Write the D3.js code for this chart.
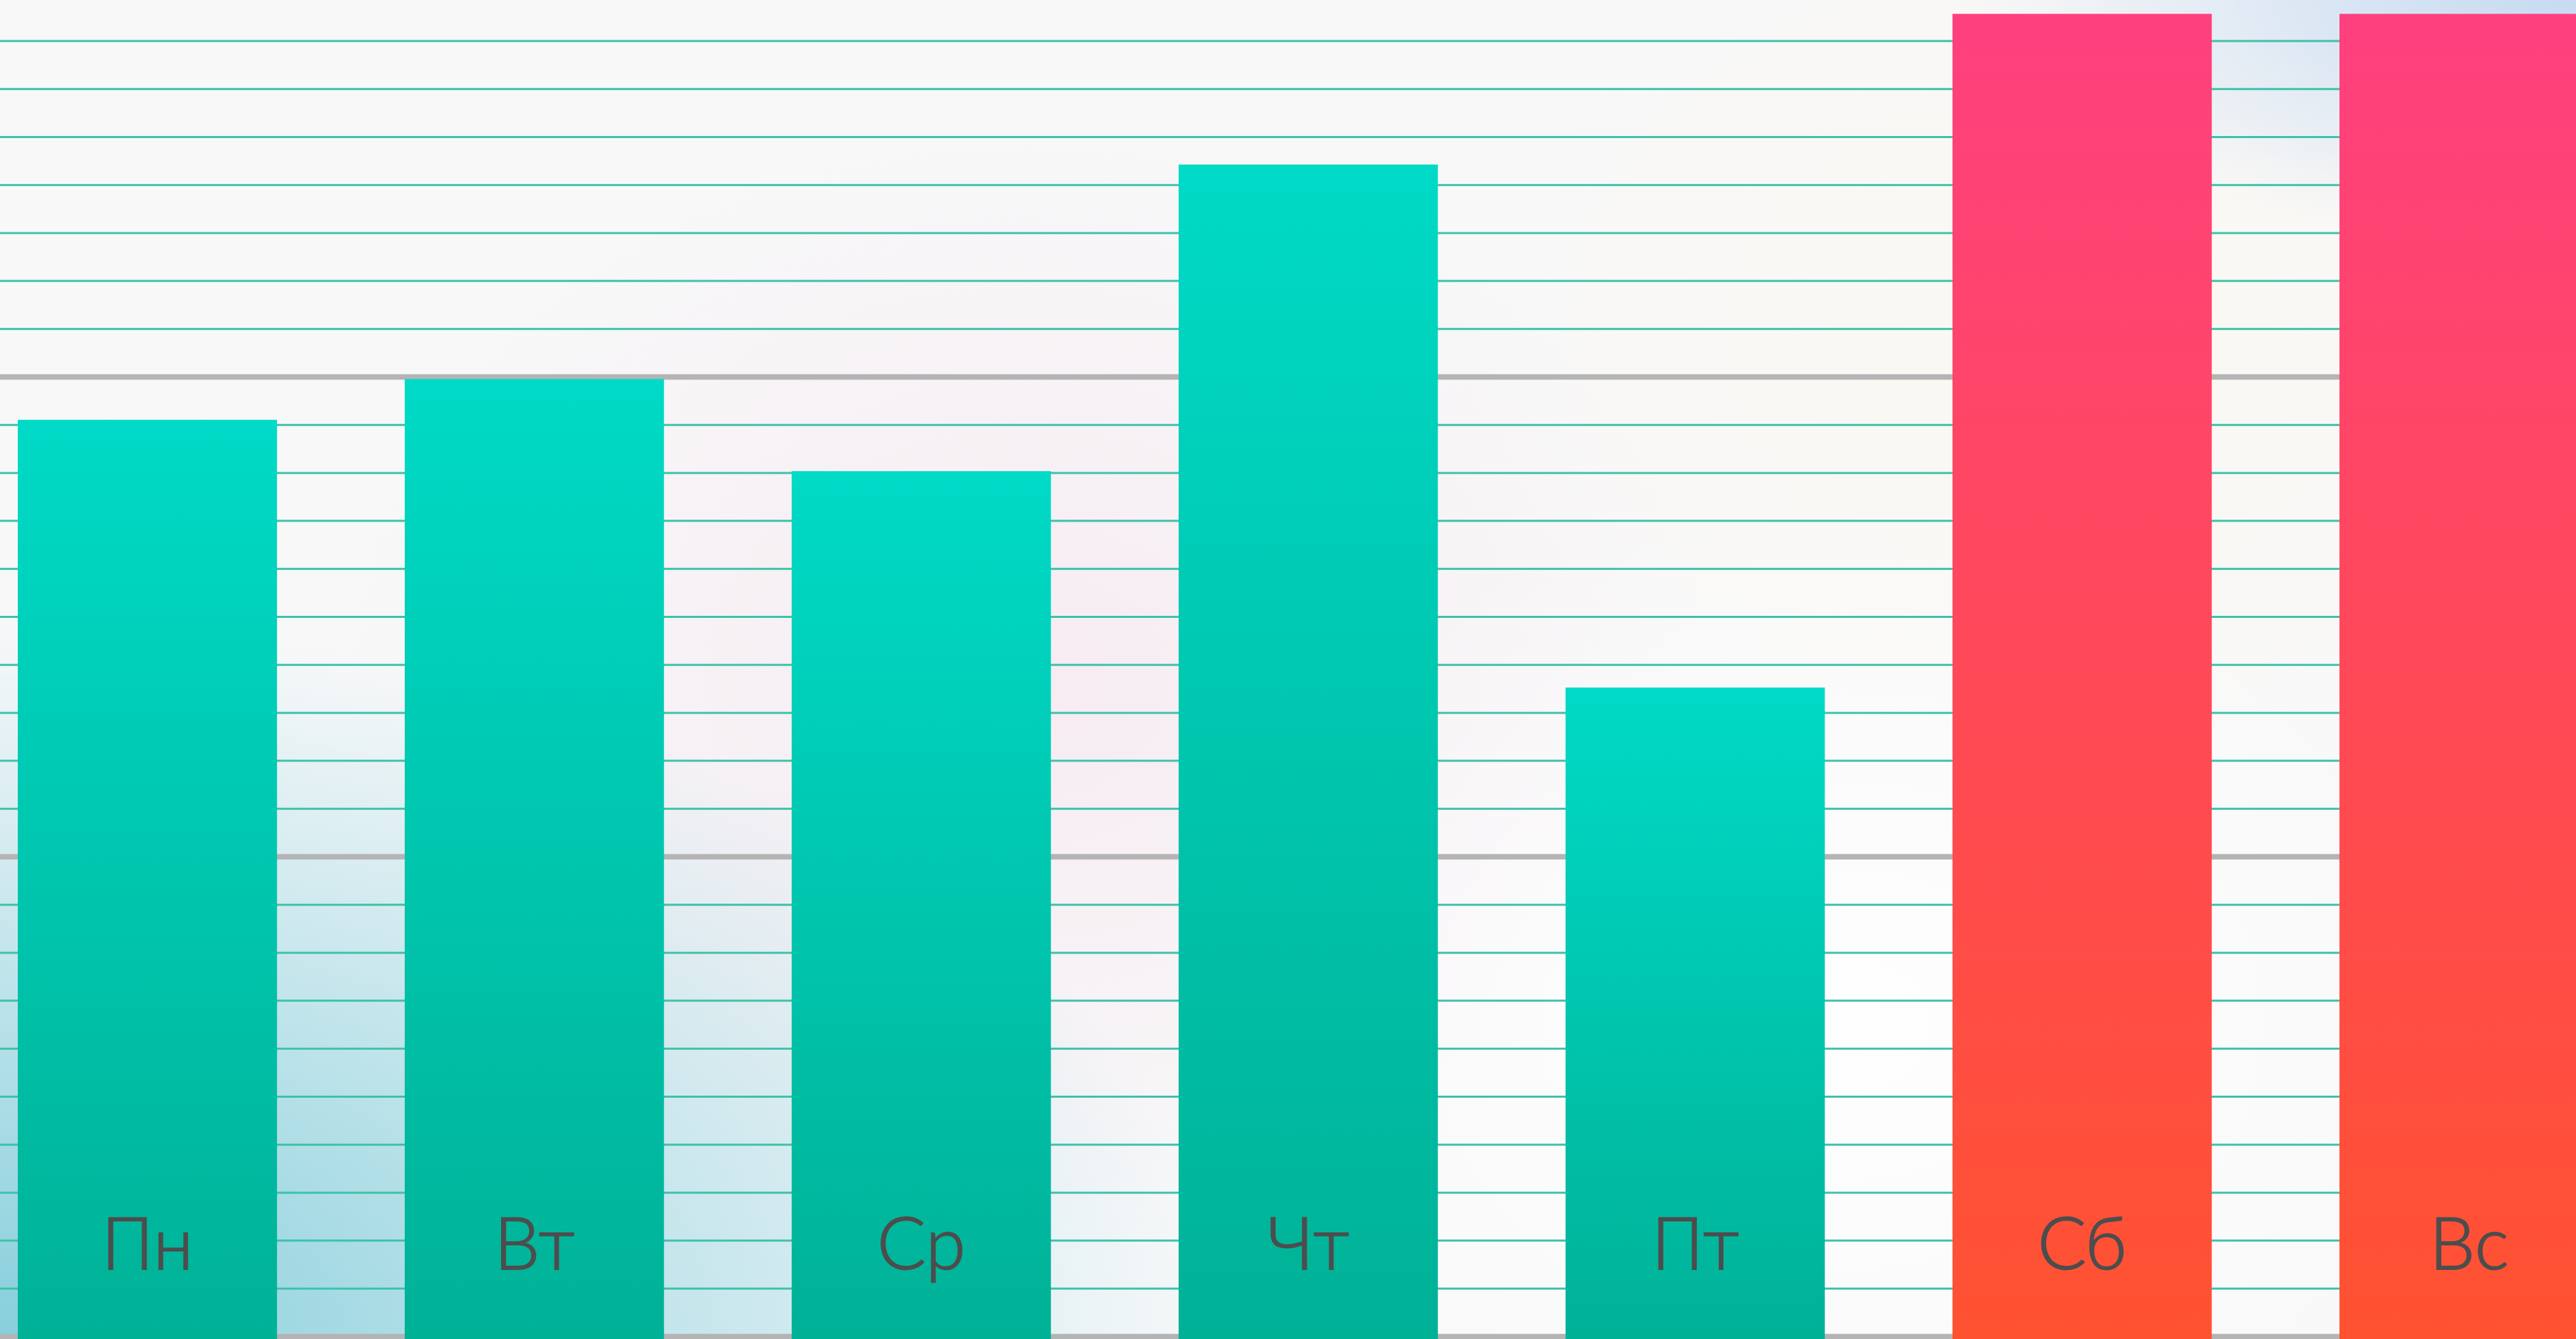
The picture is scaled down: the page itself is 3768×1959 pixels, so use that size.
<!DOCTYPE html>
<html>
<head>
<meta charset="utf-8">
<script src="https://cdn.jsdelivr.net/npm/d3@7"></script>
<style>
  html, body { margin: 0; padding: 0; overflow: hidden; background: #f8f8f9; }
  svg { display: block; }
</style>
</head>
<body>
<svg id="chart" width="3768" height="1959"></svg>
<script>
// ---- data ----
const days = ["Пн", "Вт", "Ср", "Чт", "Пт", "Сб", "Вс"];
const values = [19.1, 19.95, 18.03, 24.42, 13.52, 27.56, 27.56];
const dayType = ["weekday", "weekday", "weekday", "weekday", "weekday", "weekend", "weekend"];
const gridValues = d3.range(0, 29);   // minor grid every 1 unit
const majorEvery = 10;                // grey line every 10 units

// ---- layout ----
const W = 3768, H = 1959;
const svg = d3.select("#chart");
const defs = svg.append("defs");

// background gradients
function radial(id, cx, cy, rx, ry, color, op) {
  const g = defs.append("radialGradient").attr("id", id)
    .attr("gradientUnits", "userSpaceOnUse")
    .attr("cx", cx).attr("cy", cy).attr("r", rx)
    .attr("gradientTransform", `translate(${cx},${cy}) scale(1,${ry / rx}) translate(${-cx},${-cy})`);
  g.append("stop").attr("offset", 0).attr("stop-color", color).attr("stop-opacity", op);
  g.append("stop").attr("offset", 0.5).attr("stop-color", color).attr("stop-opacity", op * 0.5);
  g.append("stop").attr("offset", 1).attr("stop-color", color).attr("stop-opacity", 0);
}
radial("bgTeal", 0, 1959, 1800, 1050, "#86cfdc", 1);
radial("bgBlue", 3768, 0, 900, 350, "#c6daf1", 1);
radial("bgPink", 1500, 1000, 1000, 800, "#f6eaf0", 0.9);
radial("bgWarm", 3000, 500, 900, 700, "#fcf8ef", 0.8);
radial("bgWhite", 2700, 1500, 1000, 800, "#ffffff", 0.9);

svg.append("rect").attr("width", W).attr("height", H).attr("fill", "#f8f8f9");
["bgPink", "bgWarm", "bgWhite", "bgTeal", "bgBlue"].forEach(id =>
  svg.append("rect").attr("width", W).attr("height", H).attr("fill", `url(#${id})`));

// bar gradients
function linear(id, top, bottom) {
  const g = defs.append("linearGradient").attr("id", id)
    .attr("x1", 0).attr("y1", 0).attr("x2", 0).attr("y2", 1);
  g.append("stop").attr("offset", 0).attr("stop-color", top);
  g.append("stop").attr("offset", 1).attr("stop-color", bottom);
}
linear("gradWeekday", "#00dac6", "#00b196");
linear("gradWeekend", "#ff407f", "#ff5230");
const fillFor = { weekday: "url(#gradWeekday)", weekend: "url(#gradWeekend)" };

// scales
const y = d3.scaleLinear().domain([0, 28]).range([1955, 1955 - 28 * 70.2]);
const x = d3.scaleBand().domain(days).range([26, 26 + 566 * (7 - 0.33)])
  .paddingInner(0.33).paddingOuter(0);

// grid via axis
const grid = svg.append("g").attr("class", "grid")
  .call(d3.axisLeft(y).tickValues(gridValues).tickSize(-W).tickFormat(""));
grid.select(".domain").remove();
grid.selectAll(".tick line")
  .attr("stroke", d => d % majorEvery === 0 ? "#b4b4b4" : "#3cc2a9")
  .attr("stroke-width", d => d % majorEvery === 0 ? 8 : 3);

// bars
svg.append("g").selectAll("rect").data(days).join("rect")
  .attr("x", d => x(d))
  .attr("y", (d, i) => y(values[i]))
  .attr("width", x.bandwidth())
  .attr("height", (d, i) => y(0) - y(values[i]) + 10)
  .attr("fill", (d, i) => fillFor[dayType[i]]);

// labels
svg.append("g").selectAll("text").data(days).join("text")
  .attr("x", d => x(d) + x.bandwidth() / 2)
  .attr("y", y(0) - 98)
  .attr("text-anchor", "middle")
  .attr("font-family", "Lato, 'Open Sans', sans-serif")
  .attr("font-weight", 300)
  .attr("font-size", 106)
  .attr("fill", "#4d4d4d")
  .attr("stroke", "#4d4d4d")
  .attr("stroke-width", 1.8)
  .text(d => d);
</script>
</body>
</html>
